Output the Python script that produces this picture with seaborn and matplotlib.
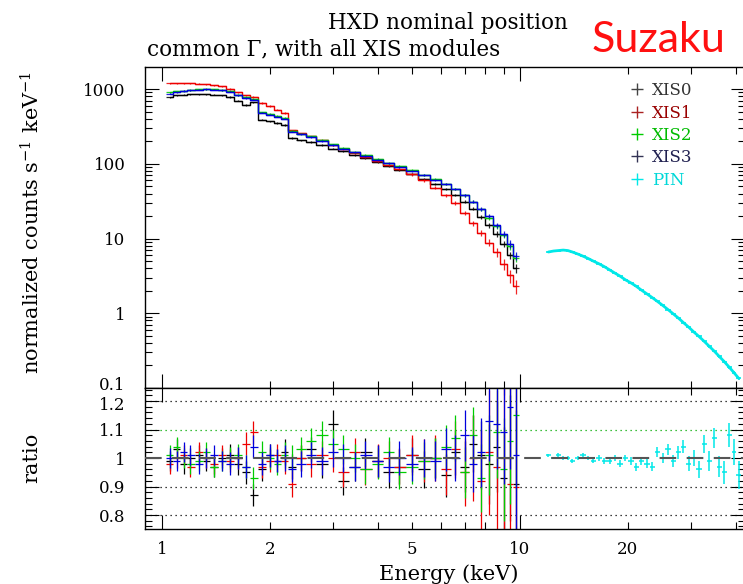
import numpy as np
import pandas as pd
import seaborn as sns
import matplotlib
matplotlib.use("Agg")
import matplotlib.pyplot as plt
from matplotlib.lines import Line2D
from matplotlib.transforms import ScaledTranslation
from matplotlib.ticker import FixedLocator, FuncFormatter, MultipleLocator, LogLocator, NullFormatter

# XIS energies (keV), shared by the four XIS modules
E_xis = [1.05, 1.10, 1.15, 1.20, 1.27, 1.33, 1.40, 1.47, 1.55, 1.63, 1.72, 1.80, 1.90, 2.00,
         2.10, 2.20, 2.30, 2.45, 2.60, 2.80, 3.00, 3.20, 3.45, 3.70, 4.00, 4.30, 4.60, 5.00,
         5.40, 5.80, 6.20, 6.60, 7.00, 7.40, 7.80, 8.20, 8.60, 9.00, 9.40, 9.75]

# normalized counts s^-1 keV^-1
xis0 = [780, 820, 840, 850, 850, 850, 840, 820, 780, 700, 610, 660, 390, 370, 350, 330, 220, 205,
        195, 178, 160, 146, 130, 118, 104, 93, 83, 72, 63, 54, 46, 38, 31, 25, 19.5, 15, 11.5, 8.5, 6.0, 4.0]
xis1 = [1190, 1200, 1200, 1190, 1180, 1150, 1120, 1090, 1000, 900, 820, 780, 650, 590, 530, 480, 280,
        255, 232, 205, 178, 158, 138, 124, 108, 95, 84, 72, 60, 48, 38, 30, 22, 16, 12, 8.8, 6.5, 4.5, 3.2, 2.3]
xis2 = [900, 930, 950, 970, 990, 1000, 990, 970, 930, 830, 770, 730, 490, 465, 435, 410, 275, 252,
        232, 207, 182, 164, 145, 131, 116, 103, 93, 82, 71, 62, 54, 46, 38, 31, 24.5, 19, 14.5, 11, 8, 5.5]
xis3 = [870, 910, 940, 960, 980, 990, 980, 960, 920, 820, 760, 720, 480, 455, 425, 400, 268, 247,
        228, 203, 178, 160, 142, 128, 114, 101, 91, 81, 70, 61, 54, 46, 38, 31, 25, 20, 15, 11.5, 8.5, 5.9]

# data / model ratio
ratio0 = [0.99, 1.03, 0.98, 1.0, 1.01, 0.99, 0.97, 1.0, 1.01, 0.98, 0.95, 0.87, 0.96, 1.01, 0.99, 1.02,
          0.97, 1.0, 1.03, 0.98, 1.12, 0.92, 0.97, 1.02, 0.99, 0.95, 0.97, 1.01, 0.96, 1.0, 0.94, 1.02,
          0.97, 1.05, 1.01, 0.98, 1.04, 0.93, 1.0, 0.91]
ratio1 = [0.98, 1.0, 1.01, 0.97, 1.02, 1.0, 0.98, 1.01, 0.99, 1.0, 1.05, 1.09, 0.97, 0.99, 1.01, 0.99,
          0.91, 1.0, 0.98, 1.01, 1.0, 0.95, 1.02, 0.96, 0.99, 1.0, 0.97, 1.01, 0.99, 1.0, 0.96, 1.03,
          0.95, 1.0, 0.92, 1.02, 0.97, 1.0, 0.91, 0.9]
ratio2 = [1.01, 1.04, 1.0, 0.98, 0.99, 1.02, 0.97, 0.99, 1.0, 1.01, 0.97, 0.93, 1.02, 1.0, 0.98, 1.01,
          1.0, 1.03, 1.06, 1.08, 1.05, 1.03, 1.0, 0.96, 0.98, 1.02, 0.95, 0.97, 0.99, 1.0, 1.04, 1.07,
          0.95, 1.08, 0.93, 1.01, 1.09, 0.96, 1.06, 1.15]
ratio3 = [1.0, 0.99, 1.02, 1.01, 0.98, 1.0, 1.01, 0.99, 0.98, 1.0, 0.97, 1.04, 0.98, 1.01, 0.99, 1.0,
          0.96, 0.98, 1.01, 0.99, 1.02, 1.0, 0.97, 1.01, 0.99, 0.97, 1.0, 0.98, 1.0, 0.99, 1.03, 1.0,
          1.08, 0.98, 1.02, 1.13, 1.12, 1.09, 1.18, 1.01]
err_xis = [0.035, 0.035, 0.035, 0.035, 0.035, 0.035, 0.035, 0.035, 0.04, 0.04, 0.04, 0.04, 0.04, 0.04,
           0.04, 0.045, 0.045, 0.045, 0.045, 0.05, 0.05, 0.05, 0.05, 0.05, 0.055, 0.055, 0.06, 0.06,
           0.065, 0.07, 0.075, 0.08, 0.09, 0.1, 0.12, 0.14, 0.16, 0.18, 0.22, 0.26]
err_xis1 = [0.035, 0.035, 0.035, 0.035, 0.035, 0.035, 0.035, 0.035, 0.04, 0.04, 0.04, 0.04, 0.04, 0.04,
            0.04, 0.045, 0.045, 0.045, 0.045, 0.05, 0.05, 0.05, 0.05, 0.055, 0.06, 0.06, 0.065, 0.07,
            0.075, 0.08, 0.09, 0.1, 0.12, 0.15, 0.18, 0.22, 0.27, 0.33, 0.4, 0.45]

# HXD PIN
E_pin = [12.0, 12.4, 12.8, 13.2, 13.6, 14.0, 14.5, 15.0, 15.5, 16.0, 16.6, 17.2, 17.8, 18.4, 19.0,
         19.7, 20.4, 21.1, 21.8, 22.6, 23.4, 24.2, 25.0, 25.9, 26.8, 27.7, 28.6, 29.6, 30.6, 31.6,
         32.7, 33.8, 34.9, 36.0, 37.2, 38.4, 39.6, 40.8]
pin = [6.6, 6.8, 6.9, 7.0, 6.9, 6.6, 6.2, 5.8, 5.4, 5.0, 4.6, 4.2, 3.8, 3.45, 3.15, 2.8, 2.55, 2.3,
       2.05, 1.82, 1.62, 1.44, 1.28, 1.12, 0.98, 0.86, 0.75, 0.65, 0.56, 0.49, 0.42, 0.36, 0.31,
       0.265, 0.225, 0.19, 0.16, 0.135]
ratio_pin = [1.01, 1.0, 1.01, 1.0, 1.0, 0.99, 1.0, 1.01, 1.0, 0.99, 1.0, 0.99, 0.99, 1.0, 0.98, 1.0,
             0.99, 0.97, 0.99, 0.98, 0.97, 1.02, 1.0, 1.03, 0.99, 1.02, 1.04, 0.98, 1.0, 0.96, 1.05,
             0.99, 1.07, 0.97, 0.95, 1.08, 1.02, 0.94]
err_pin = [0.005, 0.005, 0.006, 0.006, 0.006, 0.007, 0.007, 0.008, 0.008, 0.009, 0.009, 0.01, 0.01,
           0.011, 0.012, 0.012, 0.013, 0.014, 0.015, 0.016, 0.017, 0.018, 0.019, 0.02, 0.021, 0.022,
           0.024, 0.026, 0.028, 0.03, 0.032, 0.034, 0.036, 0.038, 0.04, 0.043, 0.046, 0.05]

labels = ["XIS0", "XIS1", "XIS2", "XIS3", "PIN"]
colors = ["black", "#ee0000", "#00cc00", "#0000dd", "#00e8e8"]
text_colors = ["#333333", "#990000", "#00bb00", "#202050", "#00d8d8"]

sns.set_style("ticks")
plt.rcParams['font.family'] = ['DejaVu Serif']
plt.rcParams['mathtext.fontset'] = 'dejavuserif'
plt.rcParams['text.color'] = 'black'


def half_widths(e):
    # bin half widths in log space from neighbouring centres
    e = np.asarray(e, float)
    edges = np.sqrt(e[:-1] * e[1:])
    lo = np.concatenate([[e[0] ** 2 / edges[0]], edges])
    hi = np.concatenate([edges, [e[-1] ** 2 / edges[-1]]])
    return np.vstack([e - lo, hi - e])


fig = plt.figure(figsize=(7.43, 5.84), dpi=100)
W, H = 743, 584
ax1 = fig.add_axes([145 / W, 1 - 388 / H, 600 / W, 321 / H])
ax2 = fig.add_axes([145 / W, 1 - 529 / H, 600 / W, 141 / H], sharex=ax1)

xis_sets = [(xis0, ratio0, err_xis), (xis1, ratio1, err_xis1), (xis2, ratio2, err_xis), (xis3, ratio3, err_xis)]
xe = half_widths(E_xis)
for (cts, rat, err), c in zip(xis_sets, colors[:4]):
    df = pd.DataFrame({"E": E_xis, "counts": cts})
    sns.lineplot(data=df, x="E", y="counts", ax=ax1, color=c, lw=1.0, drawstyle="steps-mid", legend=False)
    ax1.errorbar(E_xis, cts, xerr=xe, yerr=np.array(cts) * np.array(err) * 0.5, fmt="none",
                 ecolor=c, elinewidth=0.9, alpha=0.85)
    ax2.errorbar(E_xis, rat, xerr=xe, yerr=err, fmt="none", ecolor=c, elinewidth=0.9)

pe = half_widths(E_pin)
dfp = pd.DataFrame({"E": E_pin, "counts": pin})
sns.lineplot(data=dfp, x="E", y="counts", ax=ax1, color=colors[4], lw=2.0, legend=False)
ax1.errorbar(E_pin, pin, xerr=pe, yerr=np.array(pin) * np.array(err_pin), fmt="none",
             ecolor=colors[4], elinewidth=1.2)
ax2.errorbar(E_pin, ratio_pin, xerr=pe, yerr=err_pin, fmt="none", ecolor=colors[4], elinewidth=1.1)

# reference lines in the ratio panel
for yv, c in [(1.2, "black"), (1.1, "#00aa00"), (0.9, "black"), (0.8, "black")]:
    ax2.axhline(yv, color=c, ls=(0, (1, 3)), lw=0.9, zorder=0)
ax2.axhline(1.0, color="#555555", ls=(0, (8, 5)), lw=1.5, zorder=3)

# axes scales & ticks
ax1.set_xscale("log")
ax1.set_yscale("log")
ax1.set_xlim(0.896, 42.5)
ax1.set_ylim(0.1, 1970)
ax2.set_ylim(0.751, 1.2456)

ax2.xaxis.set_major_locator(FixedLocator([1, 10]))
ax2.xaxis.set_minor_locator(FixedLocator([2, 3, 4, 5, 6, 7, 8, 9, 20, 30, 40]))
ax2.xaxis.set_major_formatter(FuncFormatter(lambda v, p: "%g" % v))
ax2.xaxis.set_minor_formatter(FuncFormatter(lambda v, p: "%g" % v if round(v) in (2, 5, 20) else ""))
ax1.yaxis.set_major_locator(FixedLocator([0.1, 1, 10, 100, 1000]))
ax1.yaxis.set_minor_locator(LogLocator(base=10, subs=np.arange(2, 10), numticks=20))
ax1.yaxis.set_major_formatter(FuncFormatter(lambda v, p: "%g" % v))
ax1.yaxis.set_minor_formatter(NullFormatter())
ax2.yaxis.set_major_locator(FixedLocator([0.8, 0.9, 1.0, 1.1, 1.2]))
ax2.yaxis.set_minor_locator(MultipleLocator(0.02))
ax2.yaxis.set_major_formatter(FuncFormatter(lambda v, p: "%g" % round(v, 2)))

for ax in (ax1, ax2):
    ax.set_xlabel("")
    ax.set_ylabel("")
    ax.tick_params(which="both", direction="in", top=True, right=True, width=0.8, colors="black",
                   labelsize=12)
    ax.tick_params(which="major", length=10)
    ax.tick_params(which="minor", length=5)
    ax.tick_params(axis="y", which="both", pad=14)
    ax.tick_params(axis="x", which="both", pad=9)
    for s in ax.spines.values():
        s.set_linewidth(1.0)
        s.set_color("black")
ax1.tick_params(axis="x", which="both", labelbottom=False)

# nudge the shared-boundary labels apart a little, as in the original
fig.canvas.draw()
shift_up = ScaledTranslation(0, 3 / 72, fig.dpi_scale_trans)
shift_dn = ScaledTranslation(0, -2 / 72, fig.dpi_scale_trans)
for t in ax1.yaxis.get_majorticklabels():
    if t.get_text() == "0.1":
        t.set_transform(t.get_transform() + shift_up)
for t in ax2.yaxis.get_majorticklabels():
    if t.get_text() == "1.2":
        t.set_transform(t.get_transform() + shift_dn)

# legend
handles = [Line2D([], [], marker="+", ls="none", color=c, markersize=8, markeredgewidth=1.0)
           for c in ["#444444", "#aa2222", "#00cc00", "#333355", colors[4]]]
ax1.legend(handles, labels, loc="upper left", bbox_to_anchor=(620 / W, 1 - 74 / H),
           bbox_transform=fig.transFigure, frameon=False, labelcolor=text_colors, fontsize=12,
           handlelength=1.0, handletextpad=0.4, labelspacing=0.32, borderpad=0)

# texts
fig.text(448 / W, 1 - 23 / H, "HXD nominal position", ha="center", va="center", fontsize=15.5)
fig.text(147 / W, 1 - 49 / H, "common \u0393, with all XIS modules", ha="left", va="center", fontsize=15.5)
fig.text(592 / W, 1 - 40 / H, "Suzaku", ha="left", va="center", fontsize=31, color="#ff1010",
         family=["Lato", "DejaVu Sans"])
fig.text(32 / W, 1 - 222 / H, "normalized counts s$^{-1}$ keV$^{-1}$", rotation=90, ha="center",
         va="center", fontsize=15)
fig.text(32 / W, 1 - 458 / H, "ratio", rotation=90, ha="center", va="center", fontsize=15)
fig.text(449 / W, 1 - 574 / H, "Energy (keV)", ha="center", va="center", fontsize=15)

fig.savefig("out.png", dpi=100)
